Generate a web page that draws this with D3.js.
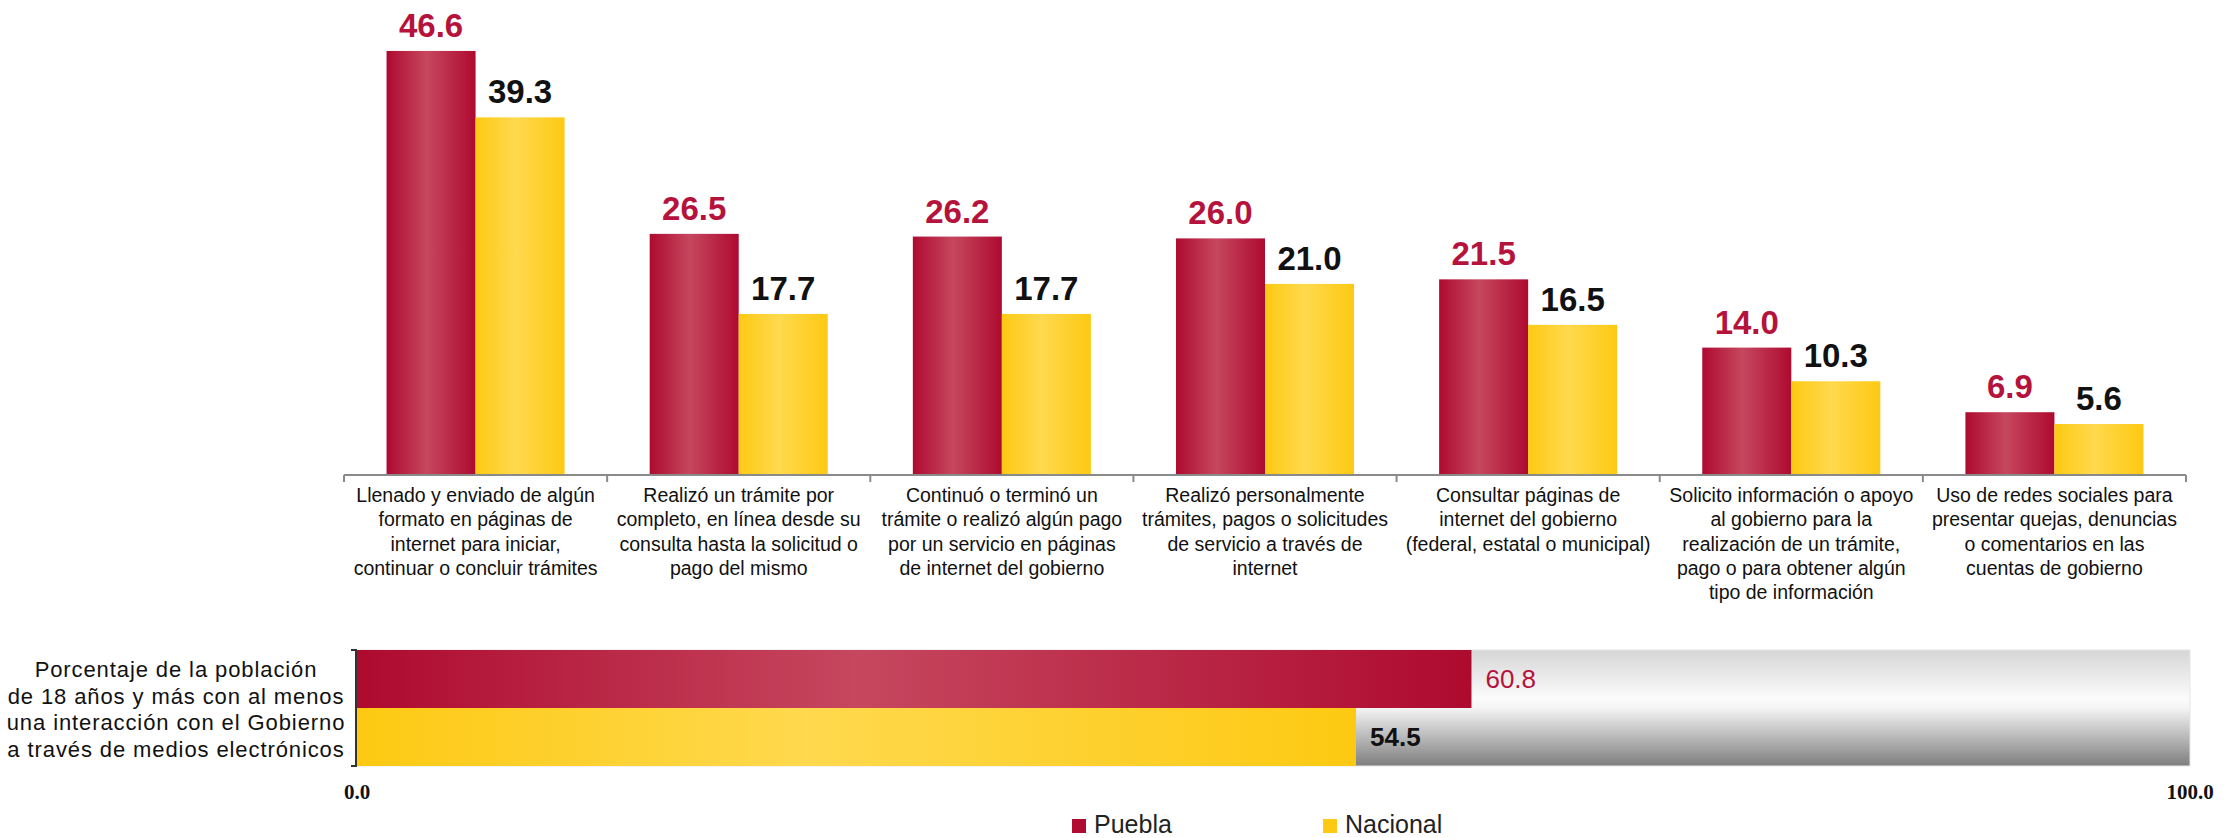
<!DOCTYPE html>
<html><head><meta charset="utf-8">
<script src="https://cdn.jsdelivr.net/npm/d3@7"></script>
<style>body{margin:0;background:#fff}svg{display:block}</style>
</head><body>
<script>
const categories = [
  ["Llenado y enviado de algún","formato en páginas de","internet para iniciar,","continuar o concluir trámites"],
  ["Realizó un trámite por","completo, en línea desde su","consulta hasta la solicitud o","pago del mismo"],
  ["Continuó o terminó un","trámite o realizó algún pago","por un servicio en páginas","de internet del gobierno"],
  ["Realizó personalmente","trámites, pagos o solicitudes","de servicio a través de","internet"],
  ["Consultar páginas de","internet del gobierno","(federal, estatal o municipal)"],
  ["Solicito información o apoyo","al gobierno para la","realización de un trámite,","pago o para obtener algún","tipo de información"],
  ["Uso de redes sociales para","presentar quejas, denuncias","o comentarios en las","cuentas de gobierno"]
];
const series = ["Puebla","Nacional"];
const puebla = [46.6, 26.5, 26.2, 26.0, 21.5, 14.0, 6.9];
const nacional = [39.3, 17.7, 17.7, 21.0, 16.5, 10.3, 5.6];
const totalLabel = ["Porcentaje de la población","de 18 años y más con al menos","una interacción con el Gobierno","a través de medios electrónicos"];
const totalPuebla = 60.8;
const totalNacional = 54.5;
const xTicks = [0, 100];

const W = 2239, H = 838;
const svg = d3.select("body").append("svg").attr("width", W).attr("height", H);
const defs = svg.append("defs");

function hGrad(id, edge, mid) {
  const g = defs.append("linearGradient").attr("id", id).attr("x1","0").attr("x2","1").attr("y1","0").attr("y2","0");
  g.append("stop").attr("offset","0%").attr("stop-color", edge);
  g.append("stop").attr("offset","45%").attr("stop-color", mid);
  g.append("stop").attr("offset","100%").attr("stop-color", edge);
}
hGrad("gRed", "#AE0A2F", "#C6475F");
hGrad("gYel", "#FDC912", "#FFD94E");
const bg = defs.append("linearGradient").attr("id","gBg").attr("x1","0").attr("x2","0").attr("y1","0").attr("y2","1");
[["0%","#d6d6d6"],["42%","#fbfbfb"],["50%","#f4f4f4"],["100%","#7e7e7e"]].forEach(s=>bg.append("stop").attr("offset",s[0]).attr("stop-color",s[1]));

const RED = "#B5133C";
const fontSans = "'Liberation Sans', Arial, sans-serif";

// ---------- Top chart ----------
const x0 = d3.scaleBand().domain(d3.range(categories.length)).range([344, 2186]).paddingInner(0).paddingOuter(0);
const x1 = d3.scaleBand().domain(series).range([0, x0.bandwidth()]).paddingInner(0).paddingOuter(0.478);
const y = d3.scaleLinear().domain([0, 50]).range([475, 20]);

const topG = svg.append("g");
const groups = topG.selectAll("g.cat").data(categories).join("g")
  .attr("transform", (d,i) => `translate(${x0(i)},0)`);

groups.each(function(d, i) {
  const g = d3.select(this);
  const vals = [puebla[i], nacional[i]];
  series.forEach((s, j) => {
    const v = vals[j];
    g.append("rect")
      .attr("x", x1(s)).attr("y", y(v))
      .attr("width", x1.bandwidth()).attr("height", y(0) - y(v))
      .attr("fill", j === 0 ? "url(#gRed)" : "url(#gYel)");
    g.append("text")
      .attr("x", x1(s) + x1.bandwidth()/2).attr("y", y(v) - 14)
      .attr("text-anchor","middle")
      .attr("font-family", fontSans).attr("font-weight","bold").attr("font-size", 33)
      .attr("fill", j === 0 ? RED : "#111")
      .text(v.toFixed(1));
  });
});

// axis
const axisG = topG.append("g").attr("transform", `translate(0,${y(0)})`);
axisG.append("line").attr("x1", 344).attr("x2", 2186).attr("stroke","#8a8a8a").attr("stroke-width",2);
d3.range(categories.length + 1).forEach(i => {
  const xx = i < categories.length ? x0(i) : x0.range()[1];
  axisG.append("line").attr("x1", xx).attr("x2", xx).attr("y1", 0).attr("y2", 7).attr("stroke","#8a8a8a").attr("stroke-width",2);
});
groups.each(function(d, i) {
  const t = d3.select(this).append("text")
    .attr("text-anchor","middle").attr("font-family", fontSans).attr("font-size", 19.5).attr("fill","#111");
  d.forEach((line, k) => {
    t.append("tspan").attr("x", x0.bandwidth()/2).attr("y", y(0) + 27 + k*24.3).text(line);
  });
});

// ---------- Bottom chart ----------
const xs = d3.scaleLinear().domain([0, 100]).range([357, 2190]);
const yb = d3.scaleBand().domain(series).range([650, 766]);
const bot = svg.append("g");
bot.append("rect").attr("x", xs(0)).attr("y", yb.range()[0]).attr("width", xs(100) - xs(0))
  .attr("height", yb.range()[1] - yb.range()[0]).attr("fill","url(#gBg)").attr("stroke","#e6e6e6").attr("stroke-width",1);
const totals = [totalPuebla, totalNacional];
series.forEach((s, j) => {
  bot.append("rect").attr("x", xs(0)).attr("y", yb(s)).attr("width", xs(totals[j]) - xs(0)).attr("height", yb.bandwidth())
    .attr("fill", j === 0 ? "url(#gRed)" : "url(#gYel)");
  bot.append("text").attr("x", xs(totals[j]) + 14).attr("y", yb(s) + yb.bandwidth()/2 + 9)
    .attr("font-family", fontSans).attr("font-size", 26)
    .attr("font-weight", j === 0 ? "normal" : "bold")
    .attr("fill", j === 0 ? RED : "#111").text(totals[j].toFixed(1));
});
// bracket
bot.append("path").attr("d", `M${xs(0)-6},${yb.range()[0]}H${xs(0)-1}V${yb.range()[1]}H${xs(0)-6}`)
  .attr("fill","none").attr("stroke","#333").attr("stroke-width",2);
// ticks labels
xTicks.forEach(t => {
  bot.append("text").attr("x", xs(t)).attr("y", 799).attr("text-anchor","middle")
    .attr("font-family","'Liberation Serif', 'Times New Roman', serif").attr("font-weight","bold").attr("font-size",21)
    .attr("fill","#111").text(t.toFixed(1));
});
// left label
const ll = bot.append("text").attr("text-anchor","middle").attr("font-family", fontSans).attr("font-size", 22)
  .attr("letter-spacing", 0.9).attr("fill","#111");
totalLabel.forEach((line,k) => ll.append("tspan").attr("x", 176).attr("y", 677 + k*26.7).text(line));

// legend
const legendX = [1072, 1323];
series.forEach((s, j) => {
  bot.append("rect").attr("x", legendX[j]).attr("y", 819).attr("width", 14).attr("height", 14)
    .attr("fill", j === 0 ? "#B00C32" : "#FDC912");
  bot.append("text").attr("x", legendX[j] + 22).attr("y", 833).attr("font-family", fontSans).attr("font-size", 25)
    .attr("fill","#222").text(s);
});
</script>
</body></html>
